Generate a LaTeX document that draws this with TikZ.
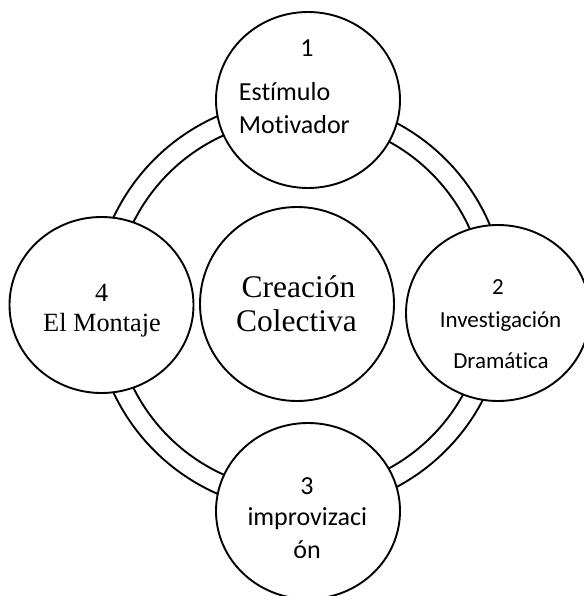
\documentclass[tikz,border=0pt]{standalone}
\usepackage{fontspec}
\setmainfont{Liberation Serif}
\newfontfamily\calfont[Ligatures={NoCommon,NoRare,NoContextual}]{Carlito}
\usetikzlibrary{shapes.geometric}
\begin{document}
\begin{tikzpicture}[x=1pt,y=-1pt,line width=1.9pt,
  sat/.style={ellipse,draw,fill=white,minimum width=184pt,minimum height=176pt,inner sep=0pt},
  cen/.style={circle,draw,fill=white,minimum size=194pt,inner sep=0pt},
  lbl/.style={inner sep=0pt,anchor=base},
  lblw/.style={inner sep=0pt,anchor=base west},
  sansbig/.style={font=\calfont\fontsize{26}{30}\selectfont},
  sanssmall/.style={font=\calfont\fontsize{23}{27}\selectfont},
  serifmid/.style={font=\fontsize{26.3}{30}\selectfont},
  serifbig/.style={font=\fontsize{31.5}{36}\selectfont}]
\useasboundingbox (0,0) rectangle (583,596);
\fill[white] (0,0) rectangle (583,596);
\coordinate (ringc) at (300,305);
\draw (ringc) circle[radius=206pt];
\draw (ringc) circle[radius=186pt];
% circles
\node[sat] (c1) at (308,100) {};
\node[sat] (c2) at (498,313) {};
\node[sat] (c3) at (308,511) {};
\node[sat] (c4) at (101.5,305) {};
\node[cen] (c0) at (297,304) {};
% texts
\node[lbl,sansbig] (t1n) at (307,57) {1};
\node[lblw,sansbig] (t1a) at (238,101) {Estímulo};
\node[lblw,sansbig] (t1b) at (238,134) {Motivador};
\node[lbl,sanssmall] (t2n) at (498,294) {2};
\node[lbl,sanssmall] (t2a) at (500.5,327) {Investigación};
\node[lbl,sanssmall] (t2b) at (501,368) {Dramática};
\node[lbl,sansbig] (t3n) at (307,494) {3};
\node[lbl,sansbig] (t3a) at (307.3,525) {improvizaci};
\node[lbl,sansbig] (t3b) at (307,558) {ón};
\node[lbl,serifmid] (t4n) at (101.7,301) {4};
\node[lbl,serifmid] (t4a) at (102,331) {El Montaje};
\node[lbl,serifbig] (t0a) at (298.5,297) {Creación};
\node[lbl,serifbig] (t0b) at (296.5,331) {Colectiva};
\end{tikzpicture}
\end{document}
